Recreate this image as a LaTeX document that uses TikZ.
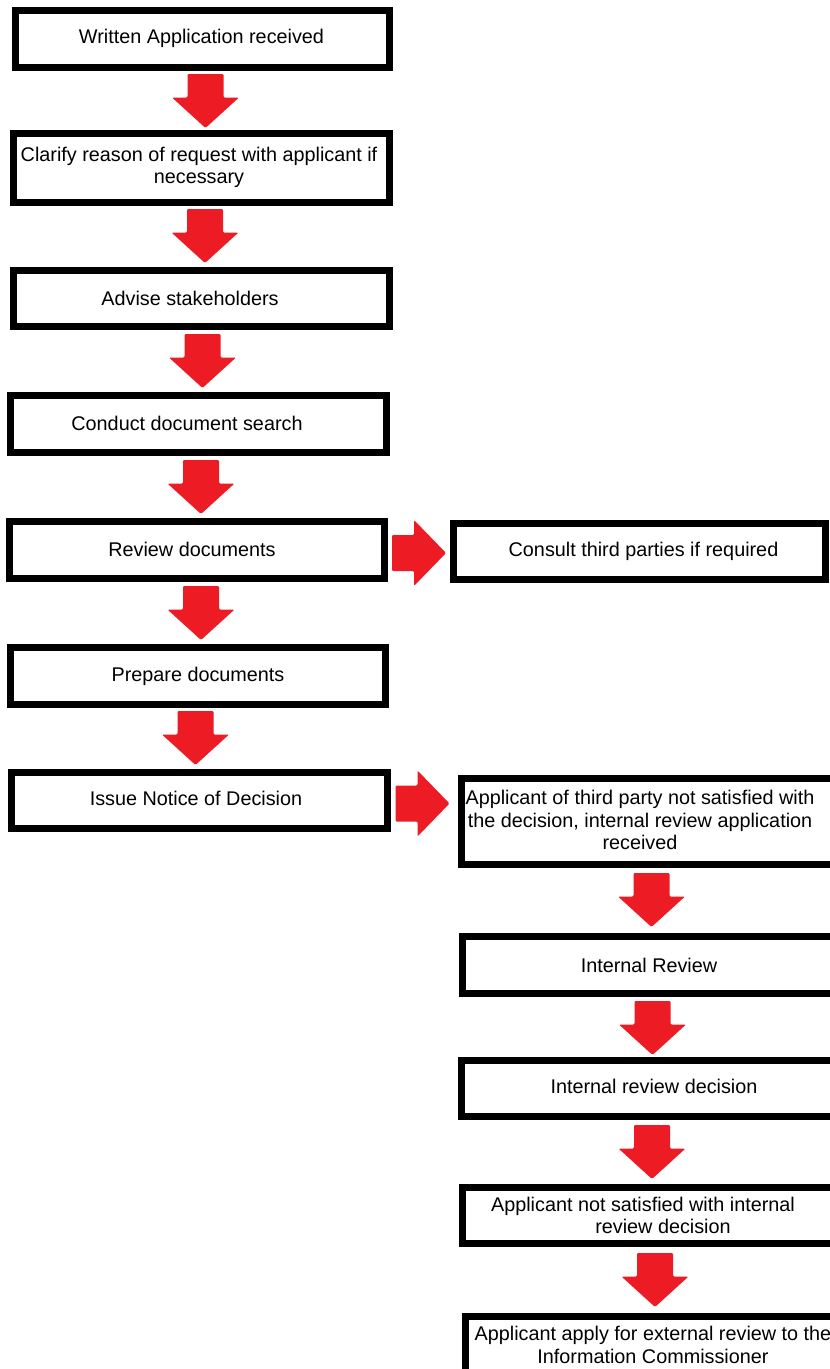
\documentclass[tikz,border=0pt]{standalone}
\usepackage{fontspec}
\setmainfont{Liberation Sans}
\definecolor{arrred}{HTML}{ED1C24}
\tikzset{
  box/.style={draw=black, line width=7pt, inner sep=0pt, fill=white},
  txt/.style={font=\fontsize{19.8}{22.5}\selectfont, align=center, inner sep=0pt, text=black},
  darrow/.pic={\fill[arrred, rounded corners=1.2pt] (-18,0) -- (18,0) -- (18,23.5) -- (33.5,23.5) -- (0,54) -- (-33.5,23.5) -- (-18,23.5) -- cycle;},
  rarrow/.pic={\fill[arrred, rounded corners=1.2pt] (0,-18) -- (22,-18) -- (22,-33) -- (54,0) -- (22,33) -- (22,18) -- (0,18) -- cycle;}
}
\begin{document}
\begin{tikzpicture}[x=1pt,y=-1pt]
\useasboundingbox (0,0) rectangle (830,1369);
\clip (0,0) rectangle (830,1369);
% left column
\node[box, minimum width=374pt, minimum height=57pt, label={[txt,xshift=-1pt,yshift=1pt]center:Written Application received}] (b1) at (202.5,39) {};
\node[box, minimum width=376pt, minimum height=69pt, label={[txt,xshift=-2.5pt,yshift=0.5pt]center:Clarify reason of request with applicant if\\necessary}] (b2) at (201.5,168) {};
\node[box, minimum width=376pt, minimum height=56pt, label={[txt,xshift=-11.5pt]center:Advise stakeholders}] (b3) at (201.5,298.5) {};
\node[box, minimum width=376pt, minimum height=57pt, label={[txt,xshift=-11.5pt,yshift=1pt]center:Conduct document search}] (b4) at (198.5,424) {};
\node[box, minimum width=375pt, minimum height=57pt, label={[txt,xshift=-5pt,yshift=1pt]center:Review documents}] (b5) at (197,550) {};
\node[box, minimum width=375pt, minimum height=57pt, label={[txt]center:Prepare documents}] (b7) at (198,676) {};
\node[box, minimum width=376pt, minimum height=56pt, label={[txt,xshift=-3.5pt,yshift=2.5pt]center:Issue Notice of Decision}] (b8) at (199.5,800.5) {};
% right column
\node[box, minimum width=372pt, minimum height=56pt, label={[txt,xshift=4pt,yshift=0.5pt]center:Consult third parties if required}] (b6) at (639.5,551.5) {};
\node[box, minimum width=380pt, minimum height=86pt, label={[txt,xshift=-11.5pt,yshift=1.5pt]center:Applicant of third party not satisfied with\\the decision, internal review application\\received}] (b9) at (651.5,821.5) {};
\node[box, minimum width=379pt, minimum height=57pt, label={[txt,xshift=-3pt]center:Internal Review}] (b10) at (652,965) {};
\node[box, minimum width=380pt, minimum height=56pt, label={[txt,xshift=2.5pt,yshift=2.5pt]center:Internal review decision}] (b11) at (651.5,1088.5) {};
\node[box, minimum width=379pt, minimum height=56pt, label={[txt,xshift=11pt]center:Applicant not satisfied with internal\rule{40pt}{0pt}\\review decision}] (b12) at (652,1215.5) {};
\node[box, minimum width=376pt, minimum height=80pt, label={[txt,xshift=-0.5pt,yshift=11.5pt]center:Applicant apply for external review to the\\Information Commissioner}] (b13) at (653.5,1356.5) {};
% block arrows
\pic (a1) at (205.5,74) {darrow};
\pic (a2) at (205,209) {darrow};
\pic (a3) at (202.5,334) {darrow};
\pic (a4) at (201,460) {darrow};
\pic (a5) at (201,586) {darrow};
\pic (a6) at (195.5,711) {darrow};
\pic (a7) at (651.5,873) {darrow};
\pic (a8) at (652.5,1001) {darrow};
\pic (a9) at (652,1125) {darrow};
\pic (a10) at (655,1253) {darrow};
\pic (r1) at (392,553) {rarrow};
\pic (r2) at (395.5,803.5) {rarrow};
\end{tikzpicture}
\end{document}
